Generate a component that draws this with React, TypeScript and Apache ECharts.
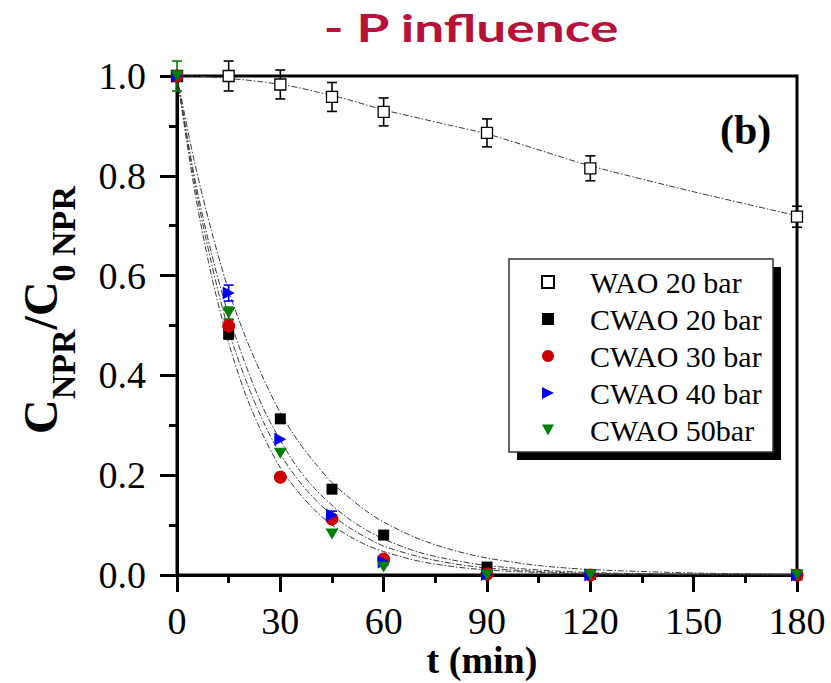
import React, { useEffect, useRef } from 'react';
import * as echarts from 'echarts';

// ---- data ----
const times = [0, 15, 30, 45, 60, 90, 120, 180];
const seriesNames = ['WAO 20 bar', 'CWAO 20 bar', 'CWAO 30 bar', 'CWAO 40 bar', 'CWAO 50bar'];

const wao20 = [1.0, 1.0, 0.983, 0.958, 0.928, 0.886, 0.815, 0.718];
const wao20Err = [0, 0.03, 0.029, 0.029, 0.028, 0.028, 0.025, 0.021];
const cwao20 = [1.0, 0.483, 0.313, 0.172, 0.08, 0.016, 0.001, 0.0];
const cwao20Err = [0, 0.01, 0, 0, 0, 0, 0, 0];
const cwao30 = [1.0, 0.499, 0.196, 0.112, 0.032, 0.002, 0.0, 0.0];
const cwao30Err = [0, 0.012, 0, 0, 0, 0, 0, 0];
const cwao40 = [1.0, 0.565, 0.272, 0.12, 0.026, 0.001, 0.0, 0.0];
const cwao40Err = [0, 0.016, 0, 0.008, 0.006, 0, 0, 0];
const cwao50 = [1.0, 0.525, 0.244, 0.082, 0.016, 0.0, 0.0, 0.0];
const cwao50Err = [0.03, 0.012, 0, 0, 0, 0, 0, 0];

// fitted curves (dash-dot)
const fitTimes = [0, 5, 10, 15, 20, 25, 30, 35, 40, 45, 50, 55, 60, 70, 80, 90, 105, 120, 150, 180];
const fitWao20 = [1.0, 1.0, 0.998, 0.995, 0.992, 0.988, 0.983, 0.977, 0.969, 0.961, 0.952, 0.942, 0.932, 0.916, 0.9, 0.884, 0.852, 0.82, 0.768, 0.72];
const fitCwao20 = [1.0, 0.83, 0.69, 0.57, 0.475, 0.395, 0.325, 0.27, 0.225, 0.185, 0.155, 0.128, 0.106, 0.073, 0.05, 0.034, 0.019, 0.011, 0.004, 0.001];
const fitCwao30 = [1.0, 0.775, 0.6, 0.465, 0.36, 0.28, 0.215, 0.168, 0.13, 0.1, 0.078, 0.06, 0.047, 0.028, 0.017, 0.01, 0.005, 0.002, 0.0, 0.0];
const fitCwao40 = [1.0, 0.8, 0.645, 0.52, 0.42, 0.335, 0.27, 0.215, 0.173, 0.14, 0.112, 0.09, 0.072, 0.046, 0.03, 0.019, 0.01, 0.005, 0.001, 0.0];
const fitCwao50 = [1.0, 0.79, 0.625, 0.49, 0.39, 0.308, 0.242, 0.192, 0.152, 0.12, 0.095, 0.075, 0.058, 0.037, 0.023, 0.014, 0.007, 0.003, 0.001, 0.0];

const xTicks = [0, 30, 60, 90, 120, 150, 180];
const yTicks = [0.0, 0.2, 0.4, 0.6, 0.8, 1.0];

const SERIF = 'Liberation Serif';

const values = [wao20, cwao20, cwao30, cwao40, cwao50];
const errors = [wao20Err, cwao20Err, cwao30Err, cwao40Err, cwao50Err];
const fits = [fitWao20, fitCwao20, fitCwao30, fitCwao40, fitCwao50];
const colors = ['#000000', '#000000', '#CC0000', '#0000FF', '#007F00'];
const symbols = ['rect', 'rect', 'circle', 'path://M0,0L10,5L0,10Z', 'path://M0,0L10,0L5,9Z'];
const symbolSizes: any[] = [11, 11, 13, [12, 13], [13, 11]];

export default function App() {
  const ref = useRef<HTMLDivElement>(null);
  useEffect(() => {
    if (!ref.current) return;
    const chart = echarts.init(ref.current, null, { renderer: 'svg' });

    const fitSeries = fits.map((f, i) => ({
      name: 'fit ' + seriesNames[i],
      type: 'line',
      data: fitTimes.map((t, k) => [t, f[k]]),
      showSymbol: false,
      symbol: 'none',
      smooth: 0.3,
      silent: true,
      z: 2,
      lineStyle: { color: '#3a3a3a', width: 1, type: [6, 2, 1.5, 2] },
    }));

    const errSeries = values.map((v, i) => ({
      name: 'err ' + seriesNames[i],
      type: 'custom',
      silent: true,
      z: 3,
      data: times.map((t, k) => [t, v[k], errors[i][k]]),
      renderItem: (params: any, api: any) => {
        const x = api.value(0);
        const y = api.value(1);
        const e = api.value(2);
        if (!e) return null;
        const top = api.coord([x, y + e]);
        const bot = api.coord([x, y - e]);
        const st = { stroke: colors[i], lineWidth: 1.6 };
        const cw = 5;
        return {
          type: 'group',
          children: [
            { type: 'line', shape: { x1: top[0], y1: top[1], x2: bot[0], y2: bot[1] }, style: st },
            { type: 'line', shape: { x1: top[0] - cw, y1: top[1], x2: top[0] + cw, y2: top[1] }, style: st },
            { type: 'line', shape: { x1: bot[0] - cw, y1: bot[1], x2: bot[0] + cw, y2: bot[1] }, style: st },
          ],
        };
      },
    }));

    const scatterSeries = values.map((v, i) => ({
      name: seriesNames[i],
      type: 'scatter',
      data: times.map((t, k) => [t, v[k]]),
      symbol: symbols[i],
      symbolSize: symbolSizes[i],
      z: 4,
      itemStyle:
        i === 0
          ? { color: '#ffffff', borderColor: '#000000', borderWidth: 1.3, opacity: 1 }
          : { color: colors[i], opacity: 1 },
    }));

    const axisCommon = {
      type: 'value',
      axisLine: { show: true, lineStyle: { color: '#000', width: 3 } },
      axisTick: { show: true, inside: false, length: 17, lineStyle: { color: '#000', width: 3 } },
      minorTick: { show: true, splitNumber: 2, length: 8, lineStyle: { color: '#000', width: 3 } },
      splitLine: { show: false },
      minorSplitLine: { show: false },
    };

    chart.setOption({
      animation: false,
      backgroundColor: '#ffffff',
      grid: {
        left: 177, right: 34, top: 76, bottom: 108,
        show: true, borderColor: '#000', borderWidth: 3, backgroundColor: 'transparent',
      },
      xAxis: {
        ...axisCommon,
        min: xTicks[0],
        max: xTicks[xTicks.length - 1],
        interval: 30,
        axisLabel: { fontFamily: SERIF, fontSize: 38, color: '#000', margin: 27 },
      },
      yAxis: {
        ...axisCommon,
        min: yTicks[0],
        max: yTicks[yTicks.length - 1],
        interval: 0.2,
        axisLabel: {
          fontFamily: SERIF, fontSize: 38, color: '#000', margin: 31,
          formatter: (val: number) => val.toFixed(1),
        },
      },
      legend: {
        orient: 'vertical',
        left: 541,
        top: 267,
        padding: 0,
        itemWidth: 12,
        itemHeight: 12,
        itemGap: 7,
        selectedMode: false,
        z: 6,
        data: seriesNames,
        textStyle: { fontFamily: SERIF, fontSize: 30, color: '#000', lineHeight: 30, padding: [0, 0, 0, 31] },
      },
      graphic: [
        { type: 'rect', z: 5, shape: { x: 517, y: 267, width: 264, height: 193 }, style: { fill: '#000' } },
        { type: 'rect', z: 5, shape: { x: 509, y: 259, width: 264, height: 193 }, style: { fill: '#fff', stroke: '#333', lineWidth: 1.5 } },
        {
          type: 'text', z: 6, x: 471, y: 27, scaleX: 1.4,
          style: { text: '- P influence', fontFamily: 'Lato', fontWeight: 'bold', fontSize: 38, fill: '#B8123A', align: 'center', verticalAlign: 'middle' },
        },
        {
          type: 'text', z: 6, x: 720, y: 130,
          style: { text: '(b)', fontFamily: SERIF, fontWeight: 'bold', fontSize: 42, fill: '#000', align: 'left', verticalAlign: 'middle' },
        },
        {
          type: 'text', z: 6, x: 482, y: 660,
          style: { text: 't (min)', fontFamily: SERIF, fontWeight: 'bold', fontSize: 38, fill: '#000', align: 'center', verticalAlign: 'middle' },
        },
        {
          type: 'text', z: 6, x: 48, y: 310, rotation: Math.PI / 2,
          style: {
            text: '{C|C}{s|NPR}{C|/C}{s|0 NPR}',
            align: 'center',
            verticalAlign: 'middle',
            fill: '#000',
            rich: {
              C: { fontFamily: SERIF, fontWeight: 'bold', fontSize: 48, fill: '#000', verticalAlign: 'bottom', padding: [0, 0, 16, 0] },
              s: { fontFamily: SERIF, fontWeight: 'bold', fontSize: 34, fill: '#000', verticalAlign: 'bottom' },
            },
          },
        },
      ],
      series: [...fitSeries, ...errSeries, ...scatterSeries],
    });

    return () => chart.dispose();
  }, []);

  return (
    <div
      ref={ref}
      style={{ position: 'fixed', left: 0, top: 0, width: 831, height: 683, background: '#fff' }}
    />
  );
}
